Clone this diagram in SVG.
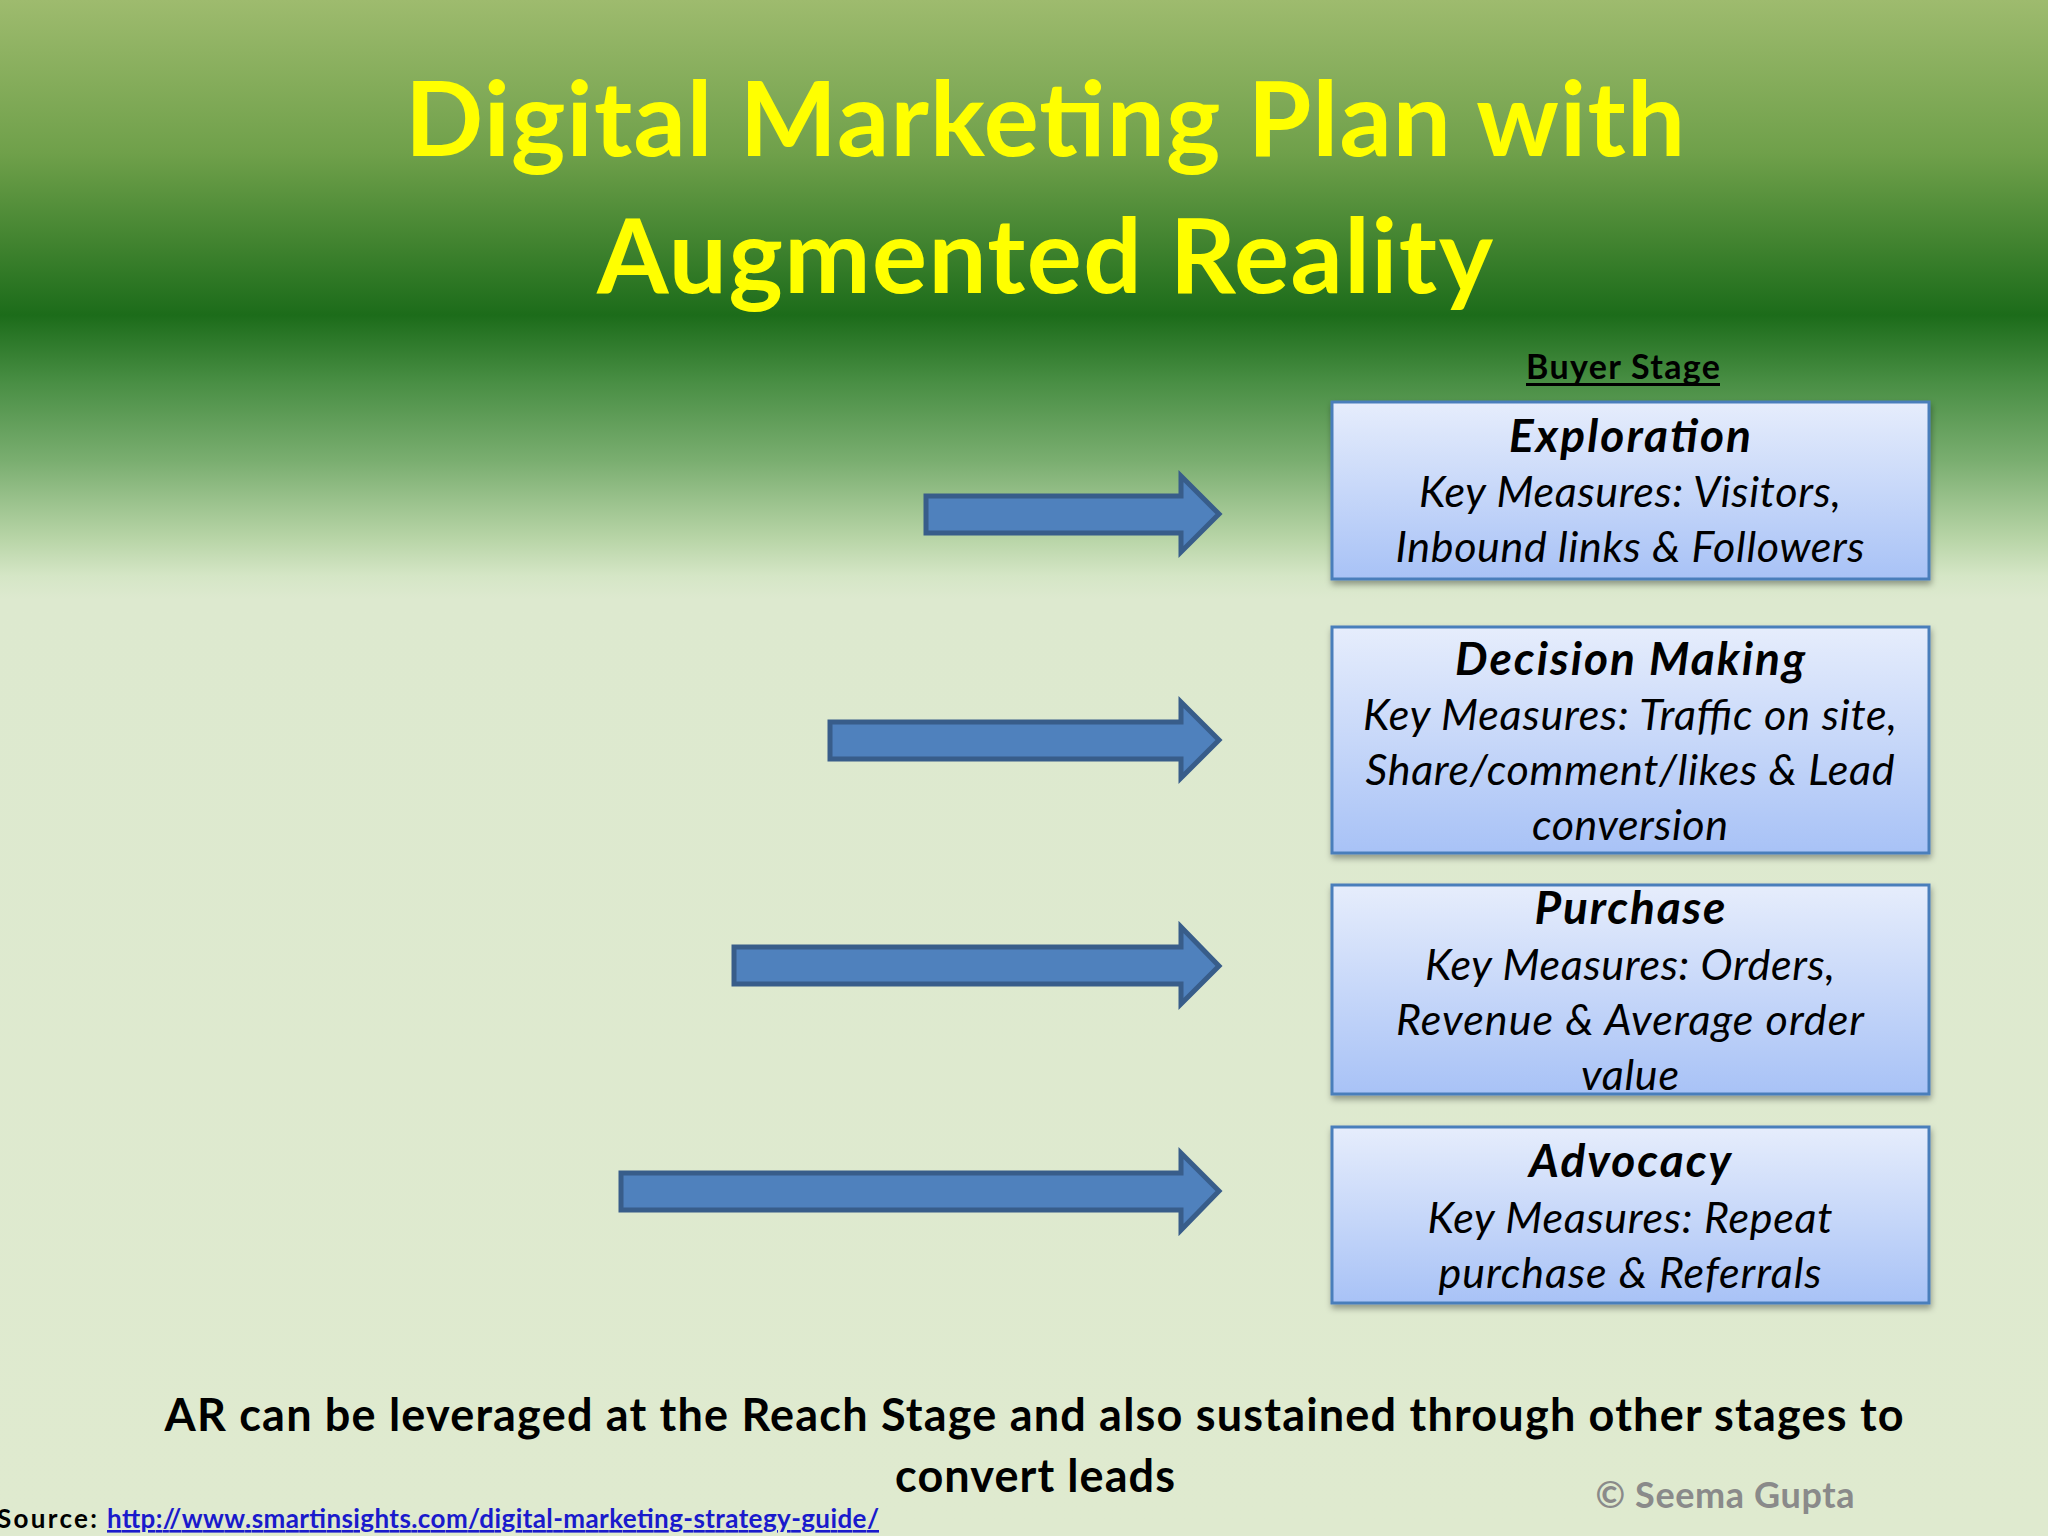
<svg xmlns="http://www.w3.org/2000/svg" width="2048" height="1536" viewBox="0 0 2048 1536">
<defs>
<linearGradient id="bg" x1="0" y1="0" x2="0" y2="1536" gradientUnits="userSpaceOnUse">
<stop offset="0" stop-color="#9ebb6e"/>
<stop offset="0.10" stop-color="#6fa04a"/>
<stop offset="0.205" stop-color="#1c6c1a"/>
<stop offset="0.25" stop-color="#4a8f45"/>
<stop offset="0.30" stop-color="#7aae70"/>
<stop offset="0.35" stop-color="#b7d4a6"/>
<stop offset="0.375" stop-color="#d5e6c6"/>
<stop offset="0.39" stop-color="#dde9cf"/>
<stop offset="1" stop-color="#dfeacf"/>
</linearGradient>
<linearGradient id="boxfill" x1="0" y1="0" x2="0" y2="1">
<stop offset="0" stop-color="#e6edfc"/>
<stop offset="1" stop-color="#a8c2f6"/>
</linearGradient>
<filter id="shadow" x="-5%" y="-5%" width="110%" height="120%">
<feDropShadow dx="1" dy="4" stdDeviation="3" flood-color="#000" flood-opacity="0.35"/>
</filter>
<style>
.title{font-family:Lato,"Open Sans",sans-serif;font-weight:bold;fill:#ffff00;text-anchor:middle}
.box{fill:url(#boxfill);stroke:#4a7ebb;stroke-width:3;filter:url(#shadow)}
.head{font-family:Lato,"Open Sans",sans-serif;font-weight:bold;font-style:italic;font-size:46px;fill:#000;text-anchor:middle}
.body{font-family:Lato,"Open Sans",sans-serif;font-style:italic;font-size:43px;fill:#000;text-anchor:middle}
.arrow{fill:#4f81bd;stroke:#385d8a;stroke-width:5;stroke-linejoin:miter}
.bold{font-family:Lato,"Open Sans",sans-serif;font-weight:bold;fill:#000}
</style>
</defs>
<rect x="0" y="0" width="2048" height="1536" fill="url(#bg)"/>
<g id="title">
<text class="title" x="1045" y="156" font-size="103" textLength="1280">Digital Marketing Plan with</text>
<text class="title" x="1045" y="293" font-size="103" textLength="896">Augmented Reality</text>
</g>
<g id="buyer-stage">
<text class="bold" x="1623" y="379" font-size="34" text-anchor="middle" textLength="194">Buyer Stage</text>
<rect x="1526" y="383" width="194" height="3" fill="#000"/>
</g>
<g id="connectors">
<path class="arrow" d="M926,496 H1181 V476 L1219,514 L1181,552 V533 H926 Z"/>
<path class="arrow" d="M830,722 H1181 V702 L1219,740 L1181,778 V759 H830 Z"/>
<path class="arrow" d="M734,947 H1181 V927 L1219,966 L1181,1004 V984 H734 Z"/>
<path class="arrow" d="M621,1173 H1181 V1153 L1219,1191 L1181,1230 V1210 H621 Z"/>
</g>
<g id="exploration">
<rect class="box" x="1332" y="402" width="597" height="177"/>
<text class="head" x="1630" y="452" textLength="242">Exploration</text>
<text class="body" x="1630" y="507" textLength="422">Key Measures: Visitors,</text>
<text class="body" x="1630" y="562" textLength="469">Inbound links &amp; Followers</text>
</g>
<g id="decision-making">
<rect class="box" x="1332" y="627" width="597" height="226"/>
<text class="head" x="1630" y="675" textLength="350">Decision Making</text>
<text class="body" x="1630" y="730" textLength="534">Key Measures: Traffic on site,</text>
<text class="body" x="1630" y="785" textLength="529">Share/comment/likes &amp; Lead</text>
<text class="body" x="1630" y="840" textLength="196">conversion</text>
</g>
<g id="purchase">
<rect class="box" x="1332" y="885" width="597" height="209"/>
<text class="head" x="1630" y="924" textLength="191">Purchase</text>
<text class="body" x="1630" y="980" textLength="410">Key Measures: Orders,</text>
<text class="body" x="1630" y="1035" textLength="468">Revenue &amp; Average order</text>
<text class="body" x="1630" y="1090" textLength="98">value</text>
</g>
<g id="advocacy">
<rect class="box" x="1332" y="1127" width="597" height="176"/>
<text class="head" x="1630" y="1177" textLength="202">Advocacy</text>
<text class="body" x="1630" y="1233" textLength="405">Key Measures: Repeat</text>
<text class="body" x="1630" y="1288" textLength="383">purchase &amp; Referrals</text>
</g>
<g id="footer">
<text class="bold" x="1034" y="1431" font-size="45" text-anchor="middle" textLength="1739">AR can be leveraged at the Reach Stage and also sustained through other stages to</text>
<text class="bold" x="1035" y="1492" font-size="45" text-anchor="middle" textLength="280">convert leads</text>
<text class="bold" x="1725" y="1508" font-size="36" text-anchor="middle" style="fill:#8a8a8a" textLength="259">© Seema Gupta</text>
<text class="bold" x="-3" y="1528" font-size="26" textLength="100">Source:</text>
<text x="107" y="1528" font-family="Lato,'Open Sans',sans-serif" font-weight="bold" font-size="26" fill="#1a1acc" text-decoration="underline" textLength="772">http://www.smartinsights.com/digital-marketing-strategy-guide/</text>
</g>
</svg>
